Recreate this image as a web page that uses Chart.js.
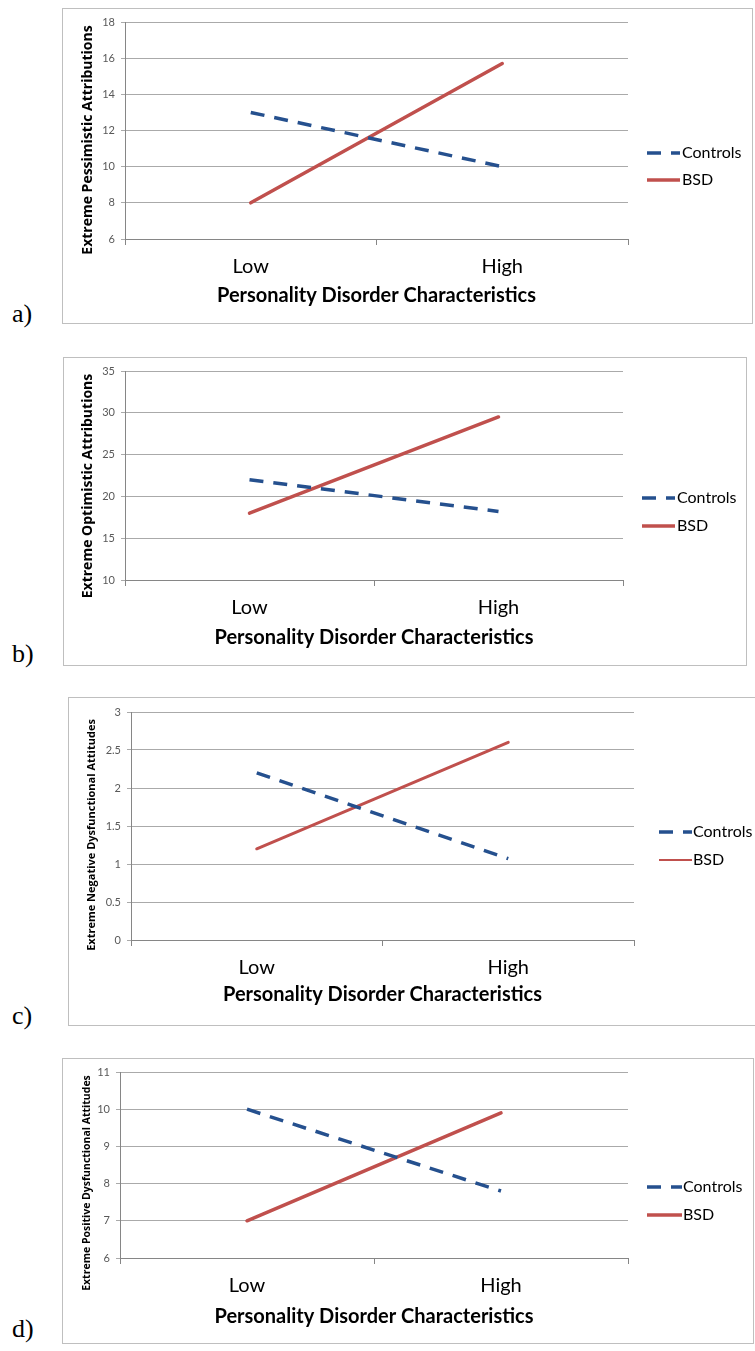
<!DOCTYPE html>
<html>
<head>
<meta charset="utf-8">
<script src="https://cdn.jsdelivr.net/npm/chart.js@4.4.0/dist/chart.umd.min.js"></script>
<style>
  body { margin:0; background:#fff; width:755px; height:1351px; position:relative; overflow:hidden; }
  .panel { position:absolute; outline:1px solid #bfbfbf; outline-offset:-1px; }
  .panel canvas { display:block; }
  .tag { position:absolute; left:12px; font:26px "Liberation Serif", serif; line-height:26px; color:#000; }
</style>
</head>
<body>
<script>
// categories and series
const categories = ['Low', 'High'];
const seriesNames = ['Controls', 'BSD'];
const xTitle = 'Personality Disorder Characteristics';

// a) extreme pessimistic attributions
const pessControls = [13, 10];
const pessBSD = [8, 15.7];
const pessTicks = [6, 8, 10, 12, 14, 16, 18];

// b) extreme optimistic attributions
const optControls = [22, 18.2];
const optBSD = [18, 29.5];
const optTicks = [10, 15, 20, 25, 30, 35];

// c) extreme negative dysfunctional attitudes
const negControls = [2.2, 1.07];
const negBSD = [1.2, 2.6];
const negTicks = [0, 0.5, 1, 1.5, 2, 2.5, 3];

// d) extreme positive dysfunctional attitudes
const posControls = [10, 7.8];
const posBSD = [7, 9.9];
const posTicks = [6, 7, 8, 9, 10, 11];

// legend drawn from the datasets themselves (line style + label)
const panelLegend = {
  id: 'panelLegend',
  afterDraw(chart, args, opts) {
    const ctx = chart.ctx;
    ctx.save();
    chart.data.datasets.forEach((ds, i) => {
      const y = opts.rows[i];
      ctx.beginPath();
      ctx.setLineDash(ds.borderDash || []);
      ctx.lineCap = 'butt';
      ctx.lineWidth = ds.legendWidth || ds.borderWidth;
      ctx.strokeStyle = ds.borderColor;
      ctx.moveTo(opts.x0, y);
      ctx.lineTo(opts.x1, y);
      ctx.stroke();
      ctx.setLineDash([]);
      ctx.fillStyle = '#000';
      ctx.font = '16px Lato';
      ctx.textBaseline = 'middle';
      ctx.textAlign = 'left';
      ctx.fillText(ds.label, opts.tx, y);
    });
    ctx.restore();
  }
};

// vertical axis title, centred where the original puts it (a bit below the plot centre)
const yAxisTitle = {
  id: 'yAxisTitle',
  afterDraw(chart, args, o) {
    const ctx = chart.ctx;
    ctx.save();
    ctx.translate(o.x, o.y);
    ctx.rotate(-Math.PI / 2);
    ctx.font = `bold ${o.size}px "Open Sans"`;
    ctx.fillStyle = '#000';
    ctx.textAlign = 'center';
    ctx.textBaseline = 'middle';
    ctx.fillText(o.text, 0, 0);
    ctx.restore();
  }
};

function makePanel(p) {
  const [bl, bt, br, bb] = p.box;
  const [pl, pt, pr, pb] = p.plot;
  const wrap = document.createElement('div');
  wrap.className = 'panel';
  wrap.style.cssText = `left:${bl}px;top:${bt}px;width:${br - bl}px;height:${bb - bt}px`;
  const cv = document.createElement('canvas');
  cv.width = br - bl; cv.height = bb - bt;
  wrap.appendChild(cv);
  document.body.appendChild(wrap);

  const tag = document.createElement('div');
  tag.className = 'tag';
  tag.style.top = (p.tagBase - 22) + 'px';
  tag.textContent = p.tag;
  document.body.appendChild(tag);

  new Chart(cv, {
    type: 'line',
    data: {
      labels: categories,
      datasets: [
        { label: seriesNames[0], data: p.controls, borderColor: '#25508e', borderWidth: 3.5,
          borderDash: [14, 10], pointRadius: 0, tension: 0 },
        { label: seriesNames[1], data: p.bsd, borderColor: '#c0504d', borderWidth: p.bsdWidth || 3.5,
          legendWidth: p.bsdLegendWidth || 3.5, borderCapStyle: 'round', pointRadius: 0, tension: 0 }
      ]
    },
    options: {
      responsive: false,
      animation: false,
      layout: { padding: { left: 0, top: pt - bt, right: br - pr, bottom: 0 } },
      plugins: {
        legend: { display: false },
        tooltip: { enabled: false },
        panelLegend: { x0: p.leg[0] - bl, x1: p.leg[1] - bl, tx: p.leg[2] - bl,
                       rows: [p.leg[3] - bt, p.leg[4] - bt] },
        yAxisTitle: { text: p.yTitle, size: p.yTitleSize, x: p.yTitleAt[0] - bl, y: p.yTitleAt[1] - bt }
      },
      scales: {
        x: {
          offset: true,
          grid: { offset: true, drawOnChartArea: false, tickLength: 6, color: '#868686' },
          border: { color: '#868686' },
          ticks: { color: '#000', font: { family: 'Lato', size: 20 }, padding: 10 },
          title: { display: true, text: xTitle, color: '#000',
                   font: { family: 'Lato', size: 20, weight: 'bold' },
                   padding: { top: 0, bottom: p.xTitlePad } },
          afterFit: s => { s.height = bb - pb; }
        },
        y: {
          min: p.ticks[0],
          max: p.ticks[p.ticks.length - 1],
          afterBuildTicks: s => { s.ticks = p.ticks.map(v => ({ value: v })); },
          grid: { color: '#aaaaaa', tickLength: 4 },
          border: { color: '#868686' },
          ticks: { color: '#595959', font: { family: 'Lato', size: 11 }, padding: 6,
                   callback: v => String(v) },
          afterFit: s => { s.width = pl - bl; }
        }
      }
    },
    plugins: [panelLegend, yAxisTitle]
  });
}

makePanel({ tag: 'a)', tagBase: 323, box: [62, 8, 753, 324], plot: [125, 22, 628, 239],
  controls: pessControls, bsd: pessBSD, ticks: pessTicks,
  yTitle: 'Extreme Pessimistic Attributions', yTitleSize: 14, yTitleAt: [88, 140], xTitlePad: 16,
  leg: [647, 680, 682, 153, 180] });

makePanel({ tag: 'b)', tagBase: 663, box: [63, 357, 747, 666], plot: [125, 371, 623, 580],
  controls: optControls, bsd: optBSD, ticks: optTicks,
  yTitle: 'Extreme Optimistic Attributions', yTitleSize: 14, yTitleAt: [88, 486], xTitlePad: 16,
  leg: [642, 675, 677, 498, 526] });

makePanel({ tag: 'c)', tagBase: 1025, box: [68, 697, 758, 1026], plot: [131, 712, 634, 940],
  controls: negControls, bsd: negBSD, ticks: negTicks, bsdWidth: 3, bsdLegendWidth: 2,
  yTitle: 'Extreme Negative Dysfunctional Attitudes', yTitleSize: 11, yTitleAt: [92, 835], xTitlePad: 19,
  leg: [659, 692, 693, 832, 860] });

makePanel({ tag: 'd)', tagBase: 1338, box: [62, 1058, 754, 1344], plot: [120, 1072, 628, 1258],
  controls: posControls, bsd: posBSD, ticks: posTicks,
  yTitle: 'Extreme Positive Dysfunctional Attitudes', yTitleSize: 10.5, yTitleAt: [87, 1183], xTitlePad: 15,
  leg: [647, 682, 683, 1187, 1215] });
</script>
</body>
</html>
